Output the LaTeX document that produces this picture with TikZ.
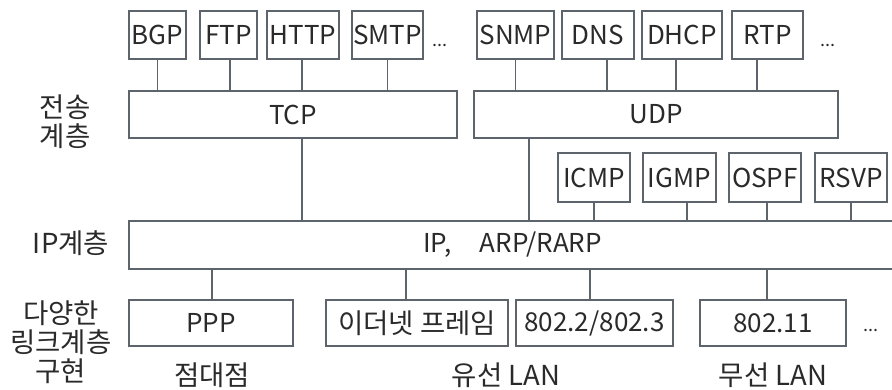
\documentclass[tikz,border=0pt]{standalone}
\usepackage{fontspec}
\setmainfont{Noto Sans CJK KR}
\definecolor{edgec}{HTML}{5E646B}
\definecolor{txtc}{HTML}{2A2A2A}
\tikzset{
  box/.style={draw=edgec, line width=1.4pt, inner sep=0pt, text=txtc,
    font=\fontsize{26}{27}\selectfont, fill=white},
  conn/.style={draw=edgec, line width=1.4pt},
  lbl/.style={text=txtc, inner sep=0pt, align=center,
    font=\fontsize{27.5}{29}\selectfont},
  dots/.style={text=txtc, inner sep=0pt, font=\fontsize{18}{18}\selectfont, anchor=base},
}
% links: from an upper box straight down to a lower box, offset from the centre
\newcommand\linkdown[3]{\draw[conn] ([xshift=#3]#1.south) -- ([xshift=#3]#1.south |- #2.north);}
\newcommand\linkup[3]{\draw[conn] ([xshift=#3]#2.north) -- ([xshift=#3]#2.north |- #1.south);}
\begin{document}
\begin{tikzpicture}[x=1pt,y=-1pt]
\useasboundingbox (0,0) rectangle (892,389);
\clip (0,0) rectangle (892,389);
\fill[white] (0,0) rectangle (892,389);

% application protocols
\node[box, minimum width=57pt, minimum height=48pt] (bgp)  at (157.5,35) {BGP};
\node[box, minimum width=57pt, minimum height=48pt] (ftp)  at (228.5,35) {FTP};
\node[box, minimum width=72pt, minimum height=48pt] (http) at (303,35)   {HTTP};
\node[box, minimum width=71pt, minimum height=48pt] (smtp) at (387.5,35) {SMTP};
\node[dots] (dotsa) at (440,46) {...};
\node[box, minimum width=77pt, minimum height=48pt] (snmp) at (515.5,35) {SNMP};
\node[box, minimum width=72pt, minimum height=48pt] (dns)  at (598,35)   {DNS};
\node[box, minimum width=80pt, minimum height=48pt] (dhcp) at (682,35)   {DHCP};
\node[box, minimum width=71pt, minimum height=48pt] (rtp)  at (767.5,35) {RTP};
\node[dots] (dotsb) at (828,46) {...};

% transport layer
\node[box, minimum width=328pt, minimum height=47pt] (tcp) at (293,114.5) {TCP};
\node[box, minimum width=364pt, minimum height=47pt] (udp) at (656,114.5) {UDP};
\node[lbl] (ltrans) at (65,122) {전송\\계층};

% protocols sitting directly on IP
\node[box, minimum width=72pt, minimum height=49pt] (icmp) at (594,177.5)   {ICMP};
\node[box, minimum width=73pt, minimum height=49pt] (igmp) at (679.5,177.5) {IGMP};
\node[box, minimum width=72pt, minimum height=49pt] (ospf) at (765,177.5)   {OSPF};
\node[box, minimum width=72pt, minimum height=49pt] (rsvp) at (851,177.5)   {RSVP};

% IP layer
\node[box, minimum width=767pt, minimum height=48pt] (ip) at (512.5,245) {IP,\hspace{1.1em}ARP/RARP};
\node[lbl] (lip) at (71,243) {IP계층};

% link layer
\node[box, minimum width=164pt, minimum height=46pt] (ppp)  at (211,323)   {PPP};
\node[box, minimum width=182pt, minimum height=46pt, font=\fontsize{27.5}{28}\selectfont] (eth) at (417,323) {이더넷 프레임};
\node[box, minimum width=157pt, minimum height=46pt] (ieee) at (594.5,323) {802.2/802.3};
\node[box, minimum width=146pt, minimum height=46pt] (wifi) at (773,323)   {802.11};
\node[dots] (dotsc) at (871,331) {...};
\node[lbl, anchor=north] (llink) at (61,301) {다양한\\링크계층\\구현};

\node[lbl] (lp2p)   at (212,375) {점대점};
\node[lbl] (lwired) at (506,375) {유선 LAN};
\node[lbl] (lwless) at (773,375) {무선 LAN};

% connectors
\linkdown{bgp}{tcp}{0pt}
\linkdown{ftp}{tcp}{1.5pt}
\linkdown{http}{tcp}{-1pt}
\linkdown{smtp}{tcp}{0pt}
\linkdown{snmp}{udp}{0pt}
\linkdown{dns}{udp}{9pt}
\linkdown{dhcp}{udp}{-6pt}
\linkdown{rtp}{udp}{-10.5pt}
\linkdown{tcp}{ip}{9pt}
\linkdown{udp}{ip}{-127pt}
\linkdown{icmp}{ip}{0pt}
\linkdown{igmp}{ip}{7.5pt}
\linkdown{ospf}{ip}{2pt}
\linkdown{rsvp}{ip}{0pt}
\linkup{ip}{ppp}{1pt}
\linkup{ip}{eth}{-11pt}
\linkup{ip}{ieee}{-4.5pt}
\linkup{ip}{wifi}{-6pt}
\end{tikzpicture}
\end{document}
